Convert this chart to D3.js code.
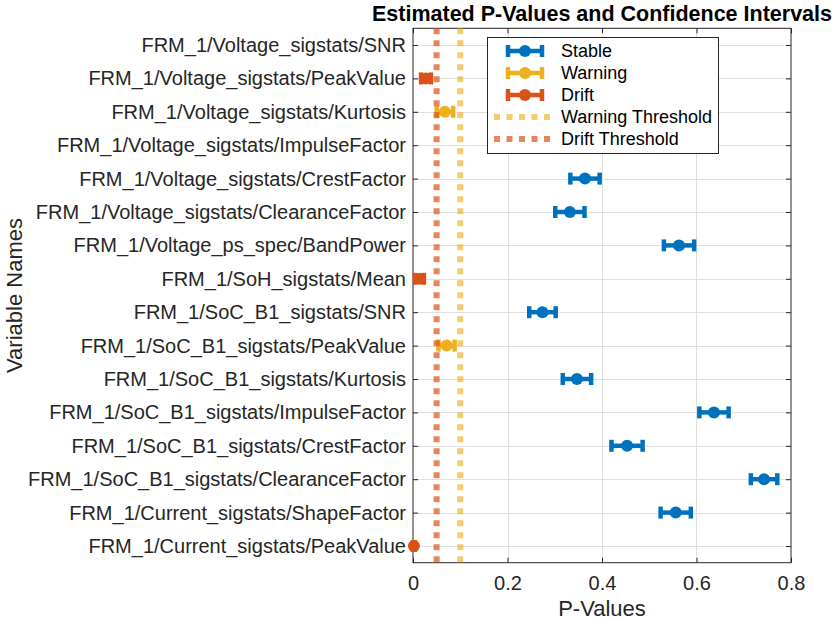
<!DOCTYPE html>
<html><head><meta charset="utf-8">
<script src="https://cdn.jsdelivr.net/npm/d3@7"></script>
<style>
body{margin:0;background:#fff;}
text{font-family:"Liberation Sans",Arial,Helvetica,sans-serif;}
</style></head>
<body><svg id="c" width="837" height="620"></svg>
<script>
// ---- data (top to bottom) ----
const variableNames = [
  "FRM_1/Voltage_sigstats/SNR",
  "FRM_1/Voltage_sigstats/PeakValue",
  "FRM_1/Voltage_sigstats/Kurtosis",
  "FRM_1/Voltage_sigstats/ImpulseFactor",
  "FRM_1/Voltage_sigstats/CrestFactor",
  "FRM_1/Voltage_sigstats/ClearanceFactor",
  "FRM_1/Voltage_ps_spec/BandPower",
  "FRM_1/SoH_sigstats/Mean",
  "FRM_1/SoC_B1_sigstats/SNR",
  "FRM_1/SoC_B1_sigstats/PeakValue",
  "FRM_1/SoC_B1_sigstats/Kurtosis",
  "FRM_1/SoC_B1_sigstats/ImpulseFactor",
  "FRM_1/SoC_B1_sigstats/CrestFactor",
  "FRM_1/SoC_B1_sigstats/ClearanceFactor",
  "FRM_1/Current_sigstats/ShapeFactor",
  "FRM_1/Current_sigstats/PeakValue"
];
const pValues = [null, 0.0275, 0.0677, null, 0.364, 0.332, 0.563, 0.0135, 0.274, 0.071, 0.347, 0.637, 0.453, 0.743, 0.556, 0.002];
const ciLower = [null, 0.017, 0.050, null, 0.333, 0.301, 0.531, 0.004, 0.246, 0.054, 0.317, 0.606, 0.420, 0.715, 0.524, 0.000];
const ciUpper = [null, 0.038, 0.085, null, 0.395, 0.363, 0.595, 0.023, 0.302, 0.088, 0.377, 0.668, 0.486, 0.771, 0.588, 0.004];
const status  = [null, "Drift", "Warning", null, "Stable", "Stable", "Stable", "Drift", "Stable", "Warning", "Stable", "Stable", "Stable", "Stable", "Stable", "Drift"];
const xTicks = [0, 0.2, 0.4, 0.6, 0.8];
const warningThreshold = 0.1;
const driftThreshold = 0.05;
const statusNames = ["Stable", "Warning", "Drift"];
const statusColors = ["#0072BD", "#EDB120", "#D95319"];

// ---- layout ----
const svg = d3.select("#c");
const L = 413, R = 791, T = 28.3, B = 562.7;
const x = d3.scaleLinear().domain([0, 0.8]).range([L, R]);
const y = d3.scaleLinear().domain([-0.5, variableNames.length - 0.5]).range([T, B]);
const color = d3.scaleOrdinal().domain(statusNames).range(statusColors);
const axisCol = "#262626";

svg.append("rect").attr("x", L).attr("y", T).attr("width", R - L).attr("height", B - T).attr("fill", "#fff");

// grid
const grid = svg.append("g").attr("stroke", "#dfdfdf").attr("stroke-width", 1);
grid.selectAll("line.gx").data(xTicks.slice(1, -1)).join("line")
  .attr("x1", d => Math.round(x(d)) + 0.5).attr("x2", d => Math.round(x(d)) + 0.5)
  .attr("y1", T).attr("y2", B);
grid.selectAll("line.gy").data(variableNames.map((d, i) => i)).join("line")
  .attr("y1", d => Math.round(y(d)) + 0.5).attr("y2", d => Math.round(y(d)) + 0.5)
  .attr("x1", L).attr("x2", R);

// axes
const fmt = d => d === 0 ? "0" : d3.format(".1f")(d);
const gx = svg.append("g").attr("transform", `translate(0,${B})`)
  .call(d3.axisBottom(x).tickValues(xTicks).tickFormat(fmt).tickSizeInner(-5).tickSizeOuter(0).tickPadding(13));
const gxt = svg.append("g").attr("transform", `translate(0,${T})`)
  .call(d3.axisTop(x).tickValues(xTicks).tickFormat("").tickSizeInner(-5).tickSizeOuter(0));
const gy = svg.append("g").attr("transform", `translate(${L},0)`)
  .call(d3.axisLeft(y).tickValues(d3.range(variableNames.length)).tickFormat(i => variableNames[i]).tickSizeInner(-5).tickSizeOuter(0).tickPadding(7));
const gyr = svg.append("g").attr("transform", `translate(${R},0)`)
  .call(d3.axisRight(y).tickValues(d3.range(variableNames.length)).tickFormat("").tickSizeInner(-5).tickSizeOuter(0));
[gx, gxt, gy, gyr].forEach(g => {
  g.select(".domain").remove();
  g.selectAll(".tick line").attr("stroke", axisCol);
  g.selectAll("text").attr("fill", axisCol).style("font-size", "20px");
});
svg.append("rect").attr("x", L).attr("y", T).attr("width", R - L).attr("height", B - T)
  .attr("fill", "none").attr("stroke", axisCol).attr("stroke-width", 1);

// error bars
const capH = 12, lw = 4.5, mr = 6;
const pts = variableNames.map((n, i) => ({i, v: pValues[i], lo: ciLower[i], hi: ciUpper[i], s: status[i]})).filter(d => d.v !== null);
const eb = svg.append("g").selectAll("g").data(pts).join("g").attr("stroke", d => color(d.s)).attr("fill", d => color(d.s));
eb.append("line").attr("x1", d => x(d.lo)).attr("x2", d => x(d.hi)).attr("y1", d => y(d.i)).attr("y2", d => y(d.i)).attr("stroke-width", lw);
eb.append("line").attr("x1", d => x(d.lo)).attr("x2", d => x(d.lo)).attr("y1", d => y(d.i) - capH / 2).attr("y2", d => y(d.i) + capH / 2).attr("stroke-width", lw);
eb.append("line").attr("x1", d => x(d.hi)).attr("x2", d => x(d.hi)).attr("y1", d => y(d.i) - capH / 2).attr("y2", d => y(d.i) + capH / 2).attr("stroke-width", lw);
eb.append("circle").attr("cx", d => x(d.v)).attr("cy", d => y(d.i)).attr("r", mr).attr("stroke", "none");

// thresholds
const thr = [
  {v: warningThreshold, c: "#EDB120", o: 0.65, name: "Warning Threshold"},
  {v: driftThreshold, c: "#D95319", o: 0.7, name: "Drift Threshold"}
];
svg.append("g").selectAll("line").data(thr).join("line")
  .attr("x1", d => x(d.v)).attr("x2", d => x(d.v)).attr("y1", T).attr("y2", B)
  .attr("stroke", d => d.c).attr("stroke-opacity", d => d.o).attr("stroke-width", 6).attr("stroke-dasharray", "6,6");

// legend
const lg = svg.append("g");
lg.append("rect").attr("x", 487.5).attr("y", 37.5).attr("width", 231).attr("height", 116)
  .attr("fill", "#fff").attr("stroke", axisCol).attr("stroke-width", 1);
const ly0 = 51, ldy = 22;
statusNames.forEach((s, k) => {
  const yy = ly0 + k * ldy, c = color(s);
  const g = lg.append("g").attr("stroke", c).attr("fill", c);
  g.append("line").attr("x1", 508).attr("x2", 542).attr("y1", yy).attr("y2", yy).attr("stroke-width", lw);
  g.append("line").attr("x1", 508).attr("x2", 508).attr("y1", yy - 6).attr("y2", yy + 6).attr("stroke-width", lw);
  g.append("line").attr("x1", 542).attr("x2", 542).attr("y1", yy - 6).attr("y2", yy + 6).attr("stroke-width", lw);
  g.append("circle").attr("cx", 525).attr("cy", yy).attr("r", mr).attr("stroke", "none");
  lg.append("text").attr("x", 561).attr("y", yy).attr("dy", "0.36em").attr("fill", "#000").style("font-size", "18px").text(s);
});
thr.forEach((d, k) => {
  const yy = ly0 + (3 + k) * ldy;
  lg.append("line").attr("x1", 494).attr("x2", 555).attr("y1", yy).attr("y2", yy)
    .attr("stroke", d.c).attr("stroke-opacity", d.o).attr("stroke-width", 6).attr("stroke-dasharray", "6,6.5");
  lg.append("text").attr("x", 561).attr("y", yy).attr("dy", "0.36em").attr("fill", "#000").style("font-size", "18px").text(d.name);
});

// titles
svg.append("text").attr("x", (L + R) / 2).attr("y", 13).attr("dy", "0.36em").attr("text-anchor", "middle")
  .style("font-size", "21.5px").style("font-weight", "bold").attr("fill", "#000").text("Estimated P-Values and Confidence Intervals");
svg.append("text").attr("x", (L + R) / 2).attr("y", 608).attr("dy", "0.36em").attr("text-anchor", "middle")
  .style("font-size", "22px").attr("fill", axisCol).text("P-Values");
svg.append("text").attr("transform", `translate(14,${(T + B) / 2}) rotate(-90)`).attr("dy", "0.36em").attr("text-anchor", "middle")
  .style("font-size", "22px").attr("fill", axisCol).text("Variable Names");
</script></body></html>
